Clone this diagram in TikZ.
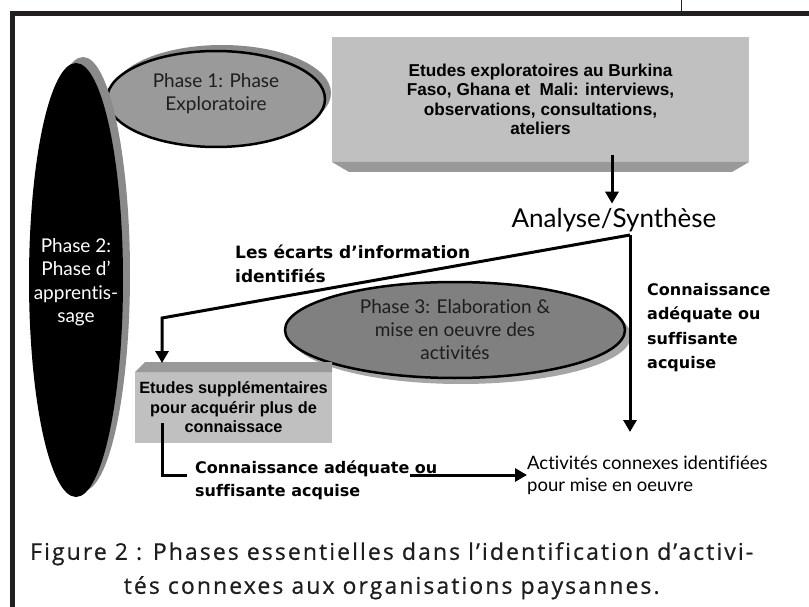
\documentclass[tikz,border=0pt]{standalone}
\usepackage{fontspec}
\setmainfont{Lato}[Ligatures=NoCommon]
\newfontfamily\boxfont{Liberation Sans}
\newfontfamily\labfont{DejaVu Sans}[Ligatures=NoCommon]
\newfontfamily\capfont{Open Sans}[LetterSpace=9, FakeBold=0.6, Ligatures=NoCommon]
\usetikzlibrary{shapes.geometric,arrows.meta,shadows,calc}

\definecolor{framec}{HTML}{231F20}
\definecolor{boxlight}{HTML}{C0C0C0}
\definecolor{boxdark}{HTML}{999999}
\definecolor{ovalA}{HTML}{9A9A9A}
\definecolor{ovalB}{HTML}{808080}
\definecolor{shadeA}{HTML}{8A8A8A}
\definecolor{shadeB}{HTML}{A6A6A6}
\definecolor{inkgray}{HTML}{1E1E1E}
\definecolor{capgray}{HTML}{1E1E1E}

\begin{document}
\begin{tikzpicture}[x=1pt,y=-1pt,
  oval/.style={ellipse, inner sep=0pt, outer sep=0pt},
  flow/.style={line width=3pt, draw=black},
  arr/.style={flow, -{Triangle[width=13pt,length=12pt]}},
  greybox/.style={rectangle, fill=boxlight, inner sep=0pt, outer sep=0pt,
    align=center, font=\boxfont\bfseries\fontsize{17.2pt}{19.5pt}\selectfont},
  phasetext/.style={align=center, inner sep=0pt, text=inkgray,
    font=\fontsize{19pt}{23pt}\selectfont},
  boldlabel/.style={align=left, inner sep=0pt, anchor=north west,
    font=\labfont\bfseries\fontsize{16pt}{24.3pt}\selectfont},
]
\useasboundingbox (0,0) rectangle (809,607);

% outer frame and the rule above it
\draw[framec, line width=5pt] (12.5,610) -- (12.5,13.5) -- (812,13.5);
\draw[framec, line width=1pt] (681,0) -- (681,11);

% phase 1 oval
\node[oval, minimum width=218pt, minimum height=96pt, fill=ovalA, draw=black,
  line width=2.5pt,
  drop shadow={shadow xshift=6pt, shadow yshift=6pt, fill=shadeA, opacity=1}]
  (p1) at (216,99) {};
\node[phasetext] (p1t) at ([yshift=5pt]p1.center) {Phase 1: Phase\\Exploratoire};

% phase 2 tall black oval
\node[oval, minimum width=94pt, minimum height=434pt, fill=black,
  drop shadow={shadow xshift=7pt, shadow yshift=6pt, fill=shadeA, opacity=1}]
  (p2) at (76,280) {};
\node[phasetext, text=white, font=\fontsize{19pt}{23.5pt}\selectfont] (p2t)
  at ([yshift=-2pt]p2.center) {Phase 2:\\Phase d’\\apprentis-\\sage};

% exploratory studies box with its lower bevel
\node[greybox, minimum width=417pt, minimum height=125pt] (box1) at (540.5,99.5)
  {Etudes exploratoires au Burkina\\Faso, Ghana et~ Mali: interviews,\\observations, consultations,\\ateliers};
\fill[boxdark] (box1.south west) -- (box1.south east) -- ++(-17,10)
  -- ($(box1.south west)+(17,10)$) -- cycle;

% analysis / synthesis
\node[inner sep=0pt, anchor=base, font=\fontsize{26pt}{30pt}\selectfont] (ana)
  at (614,227) {Analyse/Synthèse};
\draw[arr] ([yshift=7pt]box1.south -| 612,0) -- ([yshift=4pt]ana.north -| 612,0);

\coordinate (apex) at (630,235);
\coordinate (bendL) at (162,318);
\coordinate (tipA) at (630,432);

% phase 3 oval
\node[oval, minimum width=340pt, minimum height=96pt, fill=ovalB, draw=black,
  line width=2.5pt,
  drop shadow={shadow xshift=6pt, shadow yshift=-6pt, fill=shadeB, opacity=1}]
  (p3) at (455,330) {};
\node[phasetext] (p3t) at (p3.center)
  {Phase 3: Elaboration \&\\mise en oeuvre des\\activités};

% additional studies box with its upper bevel
\node[greybox, minimum width=197pt, minimum height=71pt,
  font=\boxfont\bfseries\fontsize{16.3pt}{19.5pt}\selectfont] (box2) at (233.5,407.5)
  {Etudes supplémentaires\\pour acquérir plus de\\connaissace};
\fill[boxdark] (box2.north west) -- ++(10,-10) -- ($(box2.north east)+(0,-10)$)
  -- (box2.north east) -- cycle;

% connectors from the synthesis
\draw[arr] (apex) -- (bendL) -- ([yshift=9pt]box2.north -| bendL);
\draw[arr] (apex) -- (tipA);

% labels
\node[boldlabel, font=\labfont\bfseries\fontsize{17pt}{24pt}\selectfont] (gap)
  at (235,244.7) {Les écarts d’information\\identifiés};
\node[boldlabel] (okR) at (647,283.3) {Connaissance\\adéquate ou\\suffisante\\acquise};
\node[boldlabel, font=\labfont\bfseries\fontsize{16pt}{23pt}\selectfont] (okL)
  at (195,461) {Connaissance adéquate ou\\suffisante acquise};

% related activities
\node[align=left, inner sep=0pt, anchor=north west,
  font=\fontsize{18.5pt}{22pt}\selectfont] (act) at (527,456)
  {Activités connexes identifiées\\pour mise en oeuvre};

\coordinate (elbowTop) at (162,423);
\coordinate (elbow) at (162,475);
\coordinate (elbowEnd) at (187,475);
\coordinate (ouStart) at (410,475);
\draw[flow] (elbowTop) -- (elbow) -- (elbowEnd);
\draw[arr] (ouStart) -- (ouStart -| act.west);

% caption
\node[align=center, inner sep=0pt, text=capgray, anchor=north west,
  font=\capfont\fontsize{23pt}{34pt}\selectfont] (cap) at (30,542)
  {Figure 2 : Phases essentielles dans l’identification d’activi-\\tés connexes aux organisations paysannes.};
\end{tikzpicture}
\end{document}
